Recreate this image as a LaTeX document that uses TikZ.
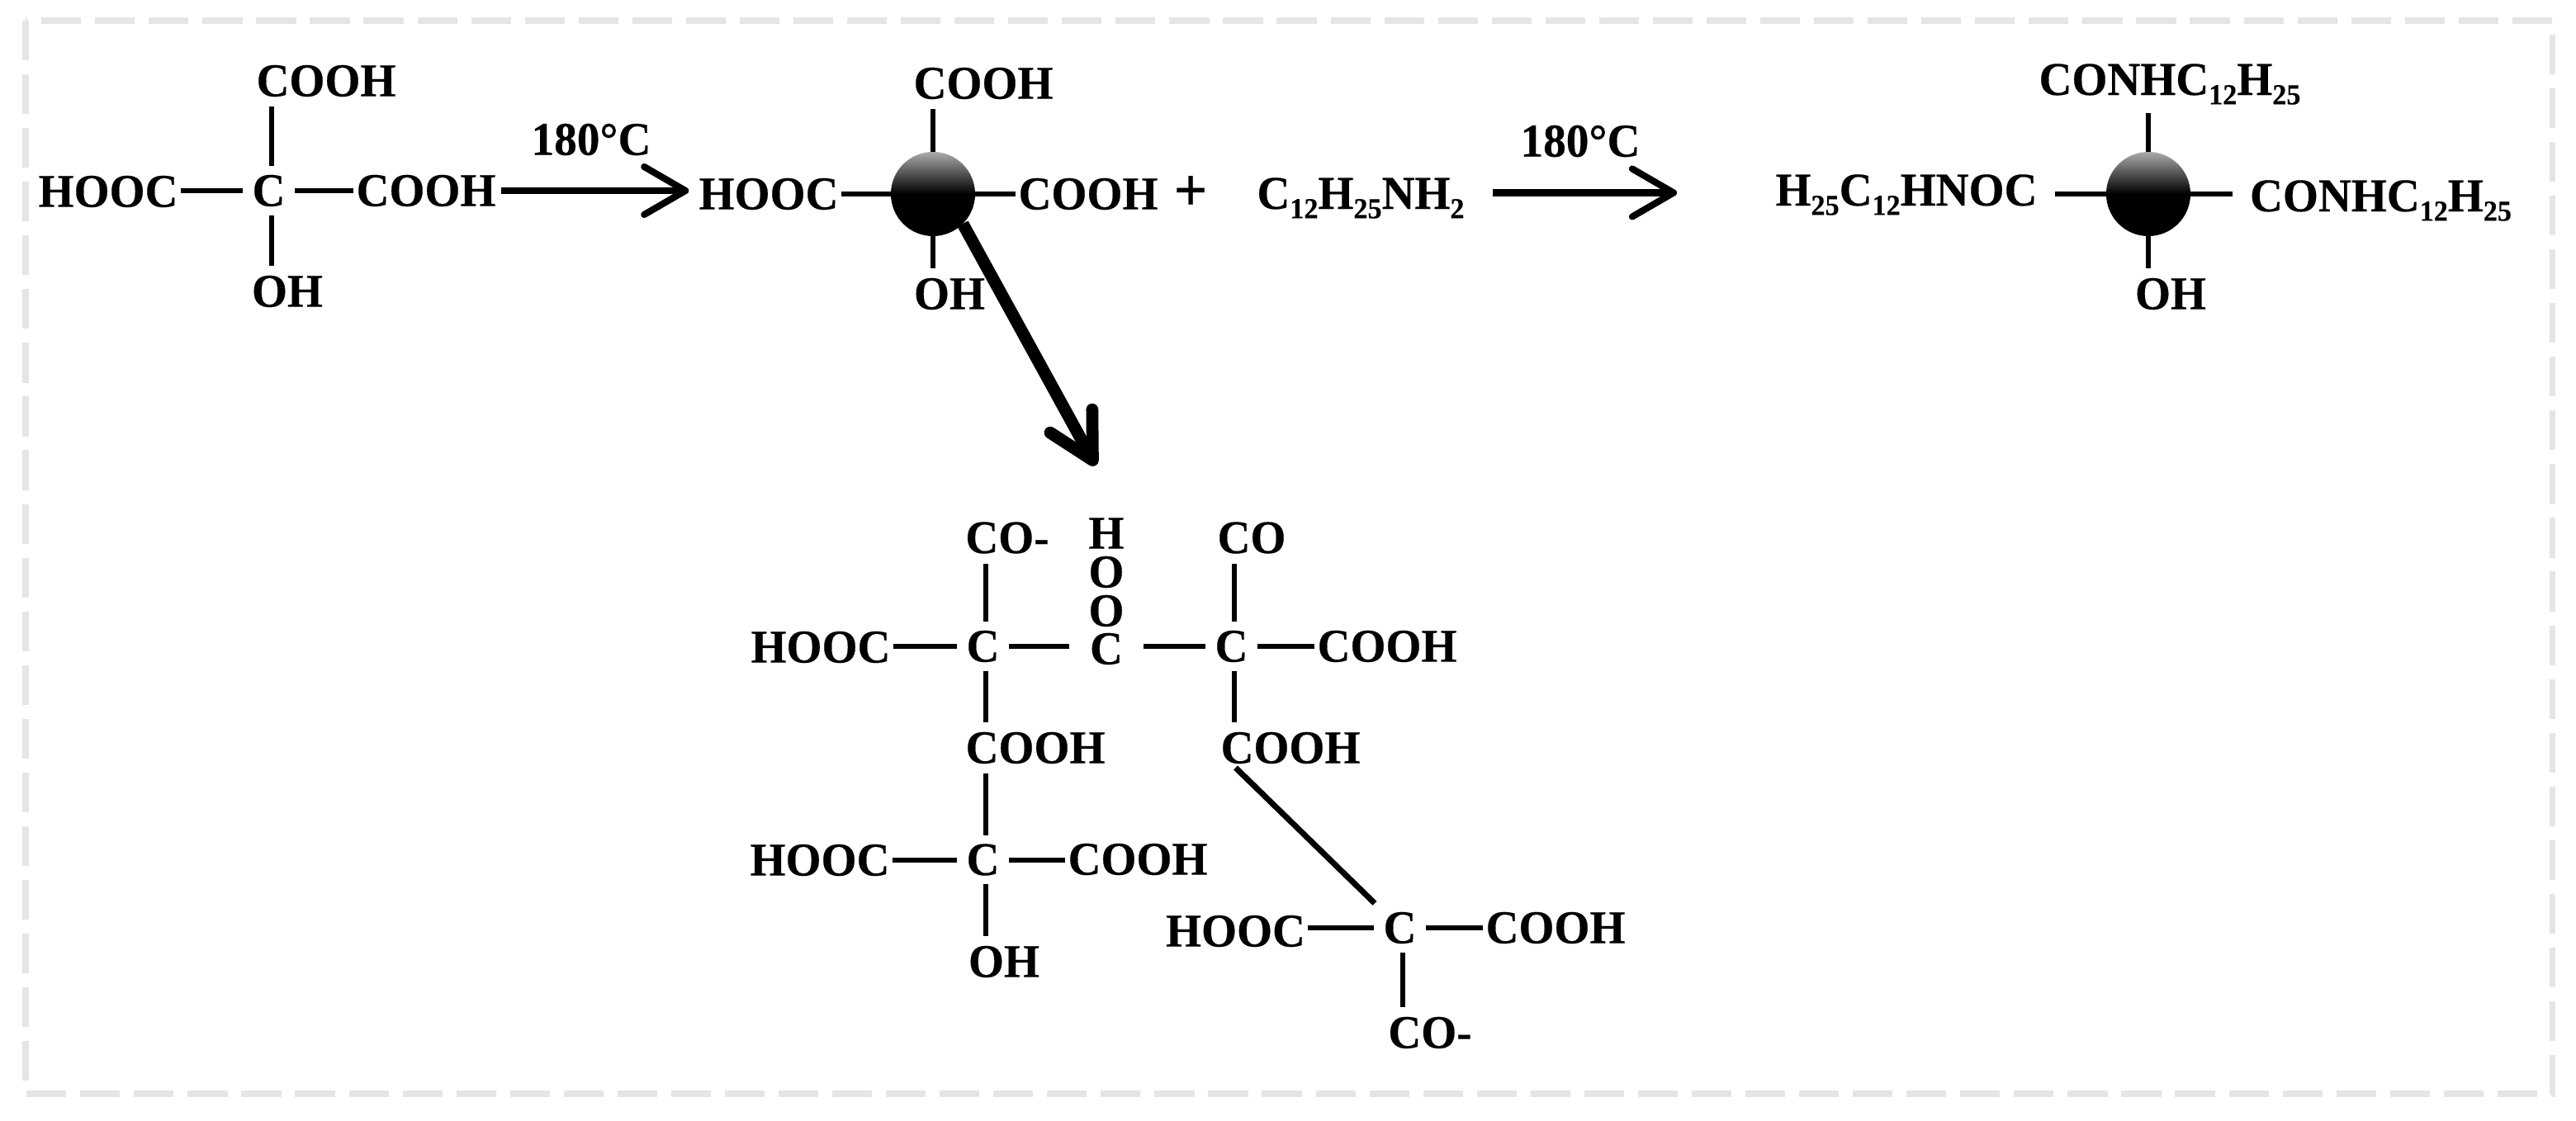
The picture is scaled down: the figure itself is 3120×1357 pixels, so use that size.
\documentclass[tikz,border=0pt]{standalone}
\usepackage{fontspec}
\newfontfamily\chemfont[FakeStretch=.97,FakeBold=.3]{Liberation Serif Bold}
\usetikzlibrary{arrows.meta}
\newcommand*\bondshift{1.1pt}
\newcommand*\lowtxt[1]{\raisebox{-0.2em}{\fontsize{10}{10}\selectfont #1}}
\tikzset{
    atom/.style     = {font=\fontsize{16.2}{18}\selectfont\chemfont, text=black,
                      inner xsep=1pt, inner ysep=3.5pt, outer sep=0pt},
    carbon/.style   = {atom, inner xsep=3.4pt, inner ysep=3pt},
    longatom/.style = {atom, anchor=base, inner xsep=6pt, inner ysep=3pt},
    sphere/.style   = {circle, minimum size=1.02cm, inner sep=0pt, outer sep=0pt,
                      top color=black!33, bottom color=black, middle color=black},
    bond/.style     = {draw=black, line width=1.7pt},
    heat/.style     = {draw=black, line width=2.3pt,
                      -{Straight Barb[round,length=.5cm,width=.58cm]}},
    bigarrow/.style = {draw=black, line width=4.2pt,
                      -{Straight Barb[round,length=.54cm,width=.58cm]}},
    frame/.style    = {draw=black!10, line width=2pt, dash pattern=on 13.7pt off 4.8pt},
}
\begin{document}
\begin{tikzpicture}[x=0.01cm,y=-0.01cm]
      \useasboundingbox (0,0) rectangle (3120,1357);
      \draw[frame] (31,25) rectangle (3091,1325);

      % Starting acid
      \node[carbon] (ca)   at (325.5,231) {C};
      \node[atom]   (topa) at (395,98)    {COOH};
      \node[atom]   (lefa) at (131,232)   {HOOC};
      \node[atom]   (riga) at (516,231)   {COOH};
      \node[atom]   (boa)  at (348,353)   {OH};

      % Sphere form of the acid
      \node[sphere] (sphb) at (1130,235)  {};
      \node[atom]   (topb) at (1191,101)  {COOH};
      \node[atom]   (lefb) at (931,235)   {HOOC};
      \node[atom]   (rigb) at (1318,235)  {COOH};
      \node[atom]   (bob)  at (1150,356)  {OH};

      % Amine and the product
      \node[atom, font=\fontsize{21}{22}\selectfont\chemfont] (plus) at (1442,234) {+};
      \node[atom, anchor=base] (amine) at (1648,253)
            {C\lowtxt{12}H\lowtxt{25}NH\lowtxt{2}};
      \node[sphere] (sphc) at (2602,235)  {};
      \node[longatom] (topc) at (2628,115) {CONHC\lowtxt{12}H\lowtxt{25}};
      \node[longatom] (lefc) at (2309,249) {H\lowtxt{25}C\lowtxt{12}HNOC};
      \node[longatom] (rigc) at (2883.5,256) {CONHC\lowtxt{12}H\lowtxt{25}};
      \node[atom]   (boc)  at (2629,356)  {OH};

      % Labels over the two heating arrows
      \node[atom] (heata) at (716,169)  {180°C};
      \node[atom] (heatb) at (1914,171) {180°C};

      % Network, upper row
      \node[carbon] (cd)   at (1190.5,783) {C};
      \node[atom]   (lefd) at (994,784)    {HOOC};
      \node[atom]   (topd) at (1220,651.5) {CO-};
      \node[atom]   (bod)  at (1254,906)   {COOH};
      \node[carbon, inner xsep=7pt] (cv) at (1340,786) {C};
      \node[atom, inner sep=0pt] (ova) at (1340,740) {O};
      \node[atom, inner sep=0pt] (ovb) at (1340,693) {O};
      \node[atom, inner sep=0pt] (hv)  at (1340,646) {H};
      \node[carbon] (ce)   at (1491.5,783) {C};
      \node[atom]   (tope) at (1516,651.5) {CO};
      \node[atom]   (rige) at (1680,783)   {COOH};
      \node[atom]   (boe)  at (1563,906)   {COOH};

      % Network, lower left
      \node[carbon] (cf)   at (1190.5,1041.5) {C};
      \node[atom]   (leff) at (993,1042)   {HOOC};
      \node[atom]   (rigf) at (1378,1041)  {COOH};
      \node[atom]   (bof)  at (1216,1165)  {OH};

      % Network, lower right
      \node[carbon] (cg)   at (1695.5,1124) {C};
      \node[atom]   (lefg) at (1496.5,1128) {HOOC};
      \node[atom]   (rigg) at (1884,1124)  {COOH};
      \node[atom]   (bog)  at (1732,1251)  {CO-};

      % Bonds: up and down from each carbon
      \foreach \a/\b in {ca/topa,cd/topd,ce/tope,cf/bod} {
        \draw[bond] ([xshift=\bondshift]\a.north) -- ([xshift=\bondshift]\a.north |- \b.south);
      }
      \foreach \a/\b in {ca/boa,cd/bod,ce/boe,cf/bof,cg/bog} {
        \draw[bond] ([xshift=\bondshift]\a.south) -- ([xshift=\bondshift]\a.south |- \b.north);
      }
      \foreach \a/\b in {sphb/topb,sphc/topc} {
        \draw[bond] (\a.north) -- (\a.north |- \b.south);
      }
      \foreach \a/\b in {sphb/bob,sphc/boc} {
        \draw[bond] (\a.south) -- (\a.south |- \b.north);
      }

      % Bonds: left and right
      \foreach \a/\b in {ca/lefa,cd/lefd,cf/leff,cg/lefg,sphb/lefb,sphc/lefc,ce/cv} {
        \draw[bond] (\a.west) -- (\a.west -| \b.east);
      }
      \foreach \a/\b in {ca/riga,ce/rige,cf/rigf,cg/rigg,sphb/rigb,sphc/rigc,cd/cv} {
        \draw[bond] (\a.east) -- (\a.east -| \b.west);
      }

      % Slanted bond down to the last carbon
      \coordinate (slant) at (1496.5,930);
      \draw[bond, line width=2pt] (slant) -- (cg);

      % Arrows
      \coordinate (tipb) at (2031,233.5);
      \coordinate (tipc) at (1327,564);
      \draw[heat, shorten <=1pt, shorten >=2.5pt] (riga.east) -- (riga.east -| lefb.west);
      \draw[heat, shorten <=8.9pt] (amine.east |- tipb) -- (tipb);
      \draw[bigarrow] (sphb.-45) -- (tipc);
\end{tikzpicture}
\end{document}
